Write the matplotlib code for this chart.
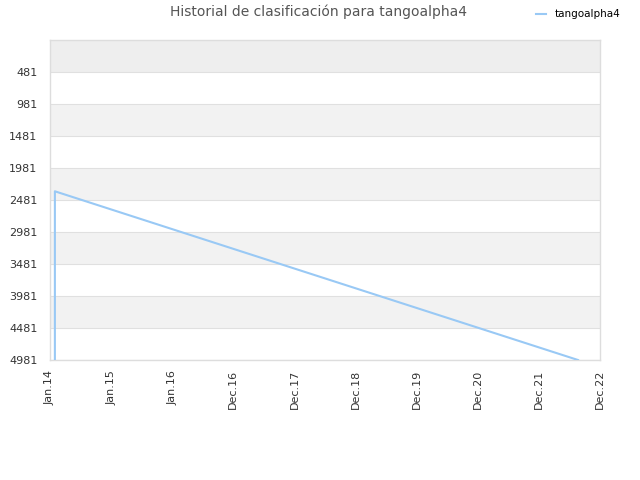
import matplotlib
matplotlib.use("Agg")
import matplotlib.pyplot as plt

x_labels = ["Jan.14", "Jan.15", "Jan.16", "Dec.16", "Dec.17", "Dec.18", "Dec.19", "Dec.20", "Dec.21", "Dec.22"]
y_ticks = [481, 981, 1481, 1981, 2481, 2981, 3481, 3981, 4481, 4981]
series_x = [0.08, 0.08, 8.64]
series_y = [4981, 2345, 4981]

fig = plt.figure(figsize=(6.4, 4.8), dpi=100)
ax = fig.add_axes([50/640, 120/480, 550/640, 320/480])

ymin, ymax = -19, 4981
bounds = [ymin] + y_ticks
for i in range(len(bounds) - 1):
    if i == 0:
        c = "#eeeeee"
    elif i % 2 == 0:
        c = "#f2f2f2"
    else:
        c = "#ffffff"
    ax.axhspan(bounds[i], bounds[i + 1], color=c, zorder=0, lw=0)
for t in y_ticks:
    ax.axhline(t, color="#e0e0e0", lw=0.8, zorder=1)

ax.plot(series_x, series_y, color="#99c9f5", lw=1.5, label="tangoalpha4", zorder=3)

ax.set_xlim(0, 9)
ax.set_ylim(ymax, ymin)
ax.set_yticks(y_ticks)
ax.set_yticklabels([str(v) for v in y_ticks])
ax.set_xticks(range(len(x_labels)))
ax.set_xticklabels(x_labels, rotation=90)
ax.tick_params(axis="y", length=0, labelsize=8, colors="#333333", pad=9)
ax.tick_params(axis="x", length=0, labelsize=8, colors="#333333", pad=7)
for s in ax.spines.values():
    s.set_color("#dddddd")
    s.set_linewidth(1)

fig.text(318/640, 1 - 12/480, "Historial de clasificación para tangoalpha4", ha="center", va="center",
         fontsize=10, color="#555555")
fig.legend(loc="upper right", bbox_to_anchor=(0.984, 1.0), frameon=False, fontsize=7.5,
           handlelength=1.0, handletextpad=0.8)

fig.savefig("out.png", dpi=100)
